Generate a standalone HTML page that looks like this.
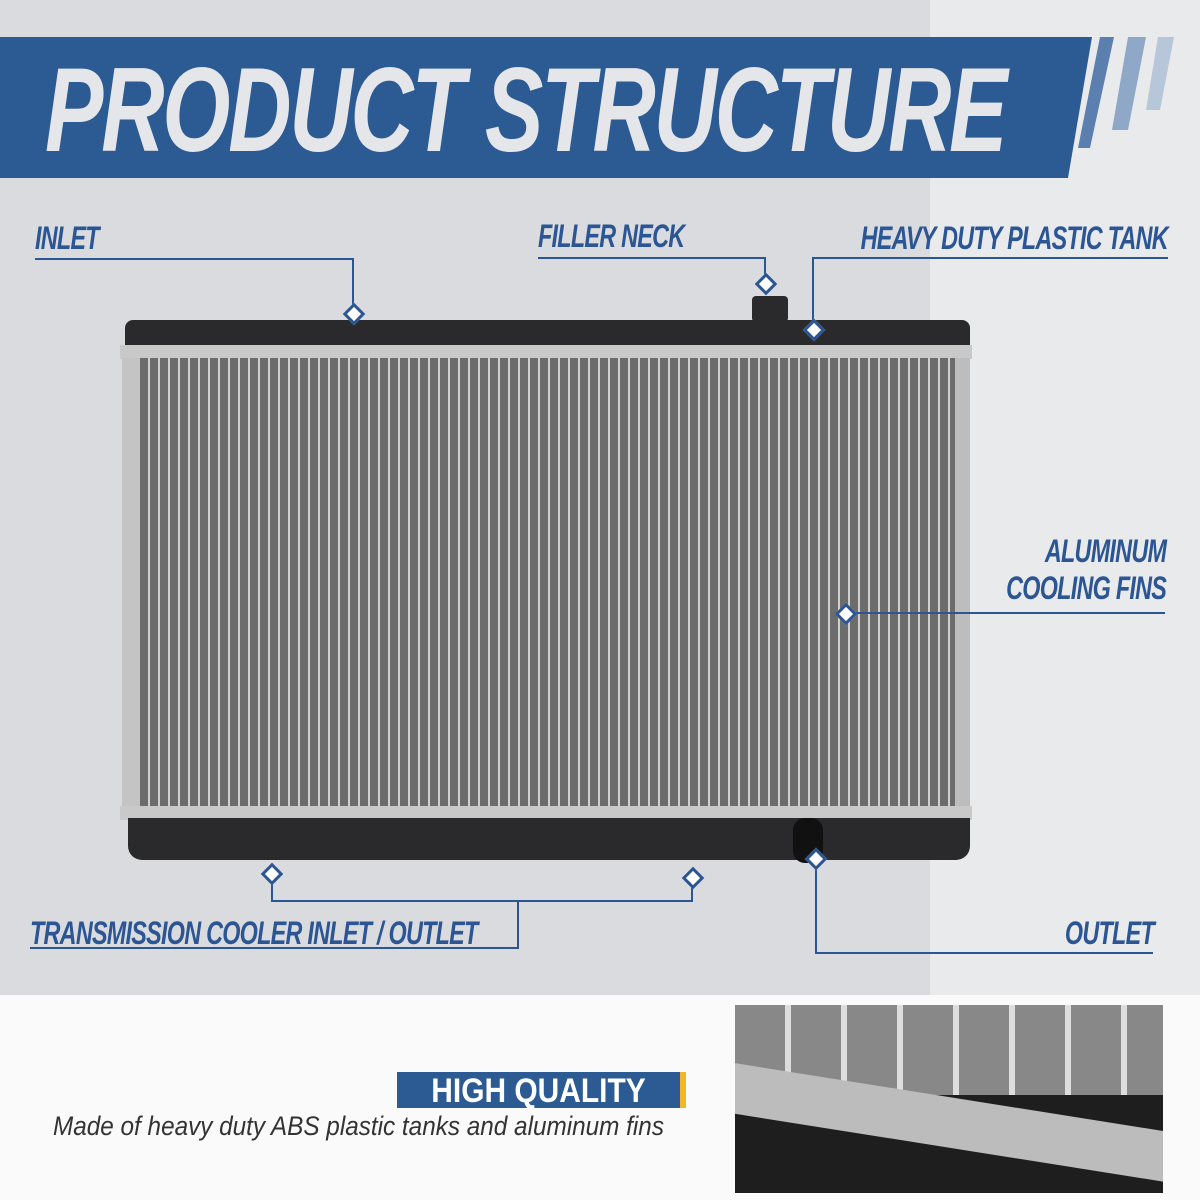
<!DOCTYPE html><html><head><style>
body{margin:0;width:1200px;height:1200px;overflow:hidden;position:relative;background:#fff;font-family:"Liberation Sans",sans-serif}
.a{position:absolute}
.lbl{position:absolute;color:#2b5593;font-weight:bold;font-style:italic;font-size:32px;letter-spacing:-1px;white-space:nowrap;transform:scaleX(.73);transform-origin:left top;line-height:1}
.r{transform-origin:right top}
.ln{position:absolute;background:#2b5593}
.dm{position:absolute;width:10px;height:10px;background:#fff;border:3px solid #2b5593;transform:rotate(45deg)}
</style></head><body>
<div class="a" style="left:0;top:0;width:1200px;height:995px;background:#d9dbde"></div>
<div class="a" style="left:930px;top:0;width:270px;height:995px;background:#e9eaec"></div>
<div class="a" style="left:0;top:995px;width:1200px;height:205px;background:#fafafa"></div>
<svg class="a" style="left:0;top:0" width="1200" height="200">
<polygon points="0,37 1092,37 1068,178 0,178" fill="#2c5a92"/>
<polygon points="1100,37 1114,37 1090,148 1078,148" fill="#5b7fae"/>
<polygon points="1128,37 1146,37 1128,130 1112,130" fill="#8fa8c8"/>
<polygon points="1158,37 1174,37 1160,110 1146,110" fill="#b8c6da"/>
</svg>
<div class="a" style="left:45px;top:45px;color:#e4e6ea;font-weight:bold;font-style:italic;font-size:120px;line-height:130px;letter-spacing:-3px;transform:scaleX(.73);transform-origin:left top;white-space:nowrap">PRODUCT STRUCTURE</div>
<!-- radiator -->
<div class="a" style="left:125px;top:320px;width:845px;height:40px;background:#2a2a2c;border-radius:8px 8px 0 0"></div>
<div class="a" style="left:120px;top:345px;width:852px;height:14px;background:#c9c9c9"></div>
<div class="a" style="left:140px;top:358px;width:815px;height:452px;background:repeating-linear-gradient(90deg,#6c6c6c 0 8px,#d0d0d0 8px 10px)"></div>
<div class="a" style="left:122px;top:358px;width:18px;height:452px;background:#c4c4c4"></div>
<div class="a" style="left:955px;top:358px;width:15px;height:452px;background:#bdbdbd"></div>
<div class="a" style="left:120px;top:806px;width:852px;height:14px;background:#c9c9c9"></div>
<div class="a" style="left:128px;top:818px;width:842px;height:42px;background:#2a2a2c;border-radius:0 0 14px 14px"></div>
<div class="a" style="left:752px;top:296px;width:36px;height:26px;background:#2a2a2c;border-radius:4px"></div>
<div class="a" style="left:793px;top:818px;width:30px;height:45px;background:#111;border-radius:12px"></div>
<!-- labels -->
<div class="lbl" style="left:35px;top:222px">INLET</div>
<div class="lbl" style="left:538px;top:220px">FILLER NECK</div>
<div class="lbl r" style="right:32px;top:222px">HEAVY DUTY PLASTIC TANK</div>
<div class="lbl r" style="right:34px;top:535px">ALUMINUM</div>
<div class="lbl r" style="right:34px;top:572px">COOLING FINS</div>
<div class="lbl" style="left:30px;top:917px">TRANSMISSION COOLER INLET / OUTLET</div>
<div class="lbl r" style="right:46px;top:917px">OUTLET</div>
<div class="ln" style="left:35px;top:258px;width:319px;height:2px"></div>
<div class="ln" style="left:352px;top:258px;width:2px;height:55px"></div>
<div class="ln" style="left:538px;top:257px;width:228px;height:2px"></div>
<div class="ln" style="left:764px;top:257px;width:2px;height:26px"></div>
<div class="ln" style="left:812px;top:257px;width:356px;height:2px"></div>
<div class="ln" style="left:812px;top:257px;width:2px;height:72px"></div>
<div class="ln" style="left:845px;top:612px;width:320px;height:2px"></div>
<div class="ln" style="left:271px;top:873px;width:2px;height:29px"></div>
<div class="ln" style="left:691px;top:877px;width:2px;height:25px"></div>
<div class="ln" style="left:271px;top:900px;width:422px;height:2px"></div>
<div class="ln" style="left:517px;top:900px;width:2px;height:49px"></div>
<div class="ln" style="left:30px;top:947px;width:489px;height:2px"></div>
<div class="ln" style="left:815px;top:858px;width:2px;height:96px"></div>
<div class="ln" style="left:815px;top:952px;width:338px;height:2px"></div>
<div class="dm" style="left:346px;top:306px"></div>
<div class="dm" style="left:758px;top:276px"></div>
<div class="dm" style="left:806px;top:322px"></div>
<div class="dm" style="left:838px;top:606px"></div>
<div class="dm" style="left:264px;top:866px"></div>
<div class="dm" style="left:685px;top:870px"></div>
<div class="dm" style="left:808px;top:851px"></div>
<!-- bottom -->
<div class="a" style="left:397px;top:1072px;width:283px;height:36px;background:#2c5a92"></div>
<div class="a" style="left:680px;top:1072px;width:6px;height:36px;background:#f0b72a"></div>
<div class="a" style="left:397px;top:1072px;width:283px;height:36px;color:#fff;font-weight:bold;font-size:34px;line-height:38px;text-align:center;transform:scaleX(.88)">HIGH QUALITY</div>
<div class="a" style="left:53px;top:1110px;color:#333;font-style:italic;font-size:27px;line-height:32px;white-space:nowrap;transform:scaleX(.9);transform-origin:left top">Made of heavy duty ABS plastic tanks and aluminum fins</div>
<div class="a" style="left:735px;top:1005px;width:428px;height:188px;background:#1e1e1e;overflow:hidden">
<div class="a" style="left:0;top:0;width:428px;height:90px;background:repeating-linear-gradient(90deg,#888 0 50px,#ddd 50px 56px)"></div>
<div class="a" style="left:-20px;top:55px;width:480px;height:50px;background:#bcbcbc;transform:rotate(9deg);transform-origin:left top"></div>
</div>
</body></html>
